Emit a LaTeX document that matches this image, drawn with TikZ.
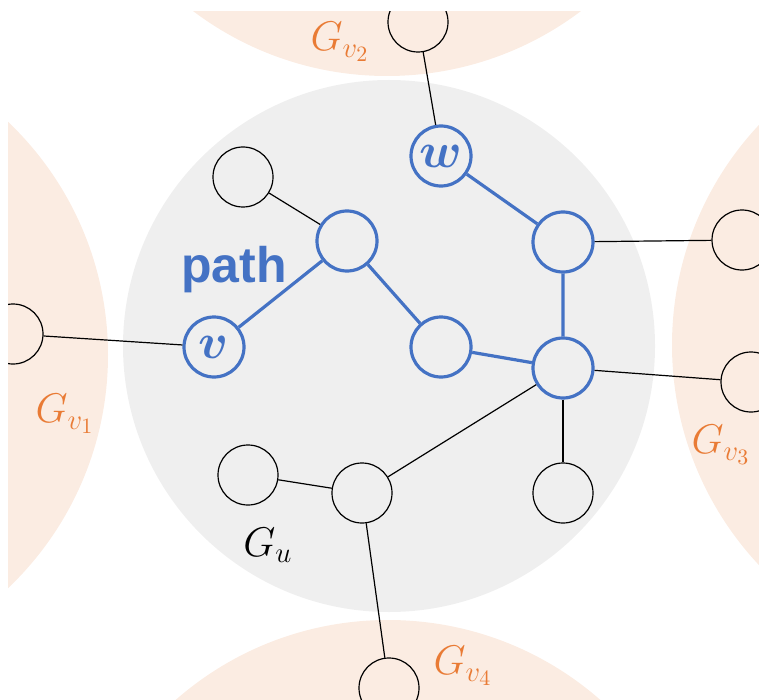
\documentclass[tikz,border=0pt]{standalone}
\usepackage{amsmath, amssymb}
\usepackage{bm}
\usepackage{fontspec}
\newfontfamily\pathfont{Liberation Sans}
\usetikzlibrary{positioning}
\definecolor{pathblue}{HTML}{4472C4}
\definecolor{suborange}{HTML}{E97B35}
\definecolor{subfill}{HTML}{FBECE2}
\definecolor{hostgray}{HTML}{EFEFEF}

\begin{document}
\begin{tikzpicture}[x=0.5pt,y=-0.5pt,
    vtx/.style={circle,draw=black,line width=0.6pt,minimum size=30pt,inner sep=0pt},
    pvtx/.style={vtx,draw=pathblue,line width=1.6pt,text=pathblue},
    edge/.style={line width=0.6pt},
    pedge/.style={draw=pathblue,line width=1.6pt},
    glabel/.style={text=suborange,font=\fontsize{22}{26}\selectfont}]
  \useasboundingbox (0,0) rectangle (759,700);
  \clip (8,12) rectangle (759,700);
  % neighbouring subgraphs and the host subgraph
  \fill[subfill] (387,-246) circle (161pt);
  \fill[subfill] (-214,355) circle (161pt);
  \fill[subfill] (994,345) circle (161pt);
  \fill[subfill] (388,942) circle (161pt);
  \fill[hostgray] (389,346) circle (133pt);
  % vertices
  \node[vtx] (x1) at (243,177) {};
  \node[pvtx] (p1) at (347,241) {};
  \node[pvtx,font=\fontsize{24}{28}\selectfont] (v) at (214,347) {$\bm{v}$};
  \node[pvtx,font=\fontsize{24}{28}\selectfont] (w) at (441,156) {$\bm{w}$};
  \node[pvtx] (p2) at (441,347) {};
  \node[pvtx] (p3) at (563,242) {};
  \node[pvtx] (p4) at (563,368) {};
  \node[vtx] (x2) at (563,493) {};
  \node[vtx] (x3) at (248,475) {};
  \node[vtx] (x4) at (362,493) {};
  % vertices in the other subgraphs
  \node[vtx] (o1) at (13,334) {};
  \node[vtx] (o2) at (418,22) {};
  \node[vtx] (o3) at (742,240) {};
  \node[vtx] (o4) at (751,382) {};
  \node[vtx] (o5) at (389,688) {};
  % path
  \draw[pedge] (v) -- (p1) -- (p2) -- (p4) -- (p3) -- (w);
  % other edges
  \draw[edge] (x1) -- (p1);
  \draw[edge] (p4) -- (x2);
  \draw[edge] (p4) -- (x4) -- (x3);
  \draw[edge] (v) -- (o1);
  \draw[edge] (w) -- (o2);
  \draw[edge] (p3) -- (o3);
  \draw[edge] (p4) -- (o4);
  \draw[edge] (x4) -- (o5);
  % labels
  \node[text=pathblue,font=\pathfont\bfseries\fontsize{25}{30}\selectfont] (plabel) at (234,270) {path};
  \node[glabel] (g1) at (65,414) {$G_{v_1}$};
  \node[glabel] (g2) at (340,42) {$G_{v_2}$};
  \node[glabel] (g3) at (721,445) {$G_{v_3}$};
  \node[glabel] (g4) at (463,666) {$G_{v_4}$};
  \node[glabel,text=black] (gu) at (268,545) {$G_u$};
\end{tikzpicture}
\end{document}
